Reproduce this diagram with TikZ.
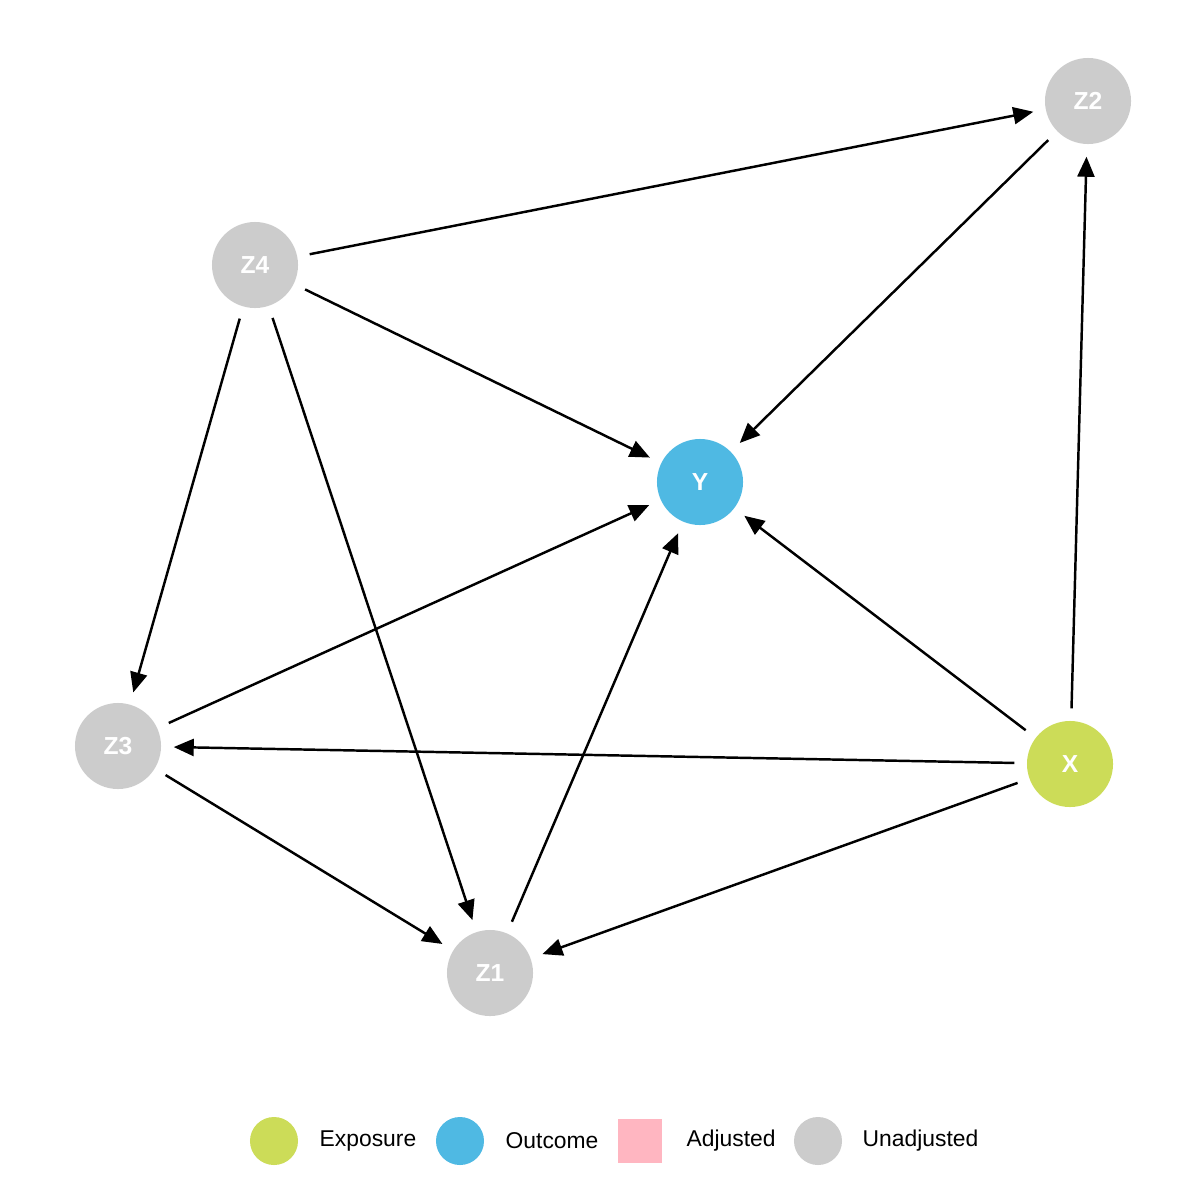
\documentclass[tikz,border=0pt]{standalone}
\usepackage{fontspec}
\setmainfont{Liberation Sans}
\usetikzlibrary{arrows.meta}
\definecolor{exposure}{HTML}{CCDC58}
\definecolor{outcome}{HTML}{4FB9E3}
\definecolor{adjusted}{HTML}{FFB6C1}
\definecolor{unadjusted}{HTML}{CCCCCC}
\begin{document}
\begin{tikzpicture}[x=0.01cm, y=-0.01cm,
    var/.style={circle, minimum size=0.86cm, inner sep=0pt, text=white, font=\fontsize{7}{8}\selectfont\bfseries},
    edge/.style={-{Triangle[length=0.2cm, width=0.17cm]}, line width=0.7pt, shorten <=0.12cm, shorten >=0.12cm},
    key/.style={circle, minimum size=0.48cm, inner sep=0pt},
    keylabel/.style={anchor=west, inner sep=0pt, font=\fontsize{6.5}{8}\selectfont}]
    \useasboundingbox (0,0) rectangle (1200,1200);
    \node[var, fill=unadjusted] (Z2) at (1088,101) {Z2};
    \node[var, fill=unadjusted] (Z4) at (255,265) {Z4};
    \node[var, fill=outcome] (Y) at (700,482) {Y};
    \node[var, fill=unadjusted] (Z3) at (118,746) {Z3};
    \node[var, fill=exposure] (X) at (1070,764) {X};
    \node[var, fill=unadjusted] (Z1) at (490,973) {Z1};

    \draw[edge] (Z4) -- (Z2);
    \draw[edge] (Z4) -- (Y);
    \draw[edge] (Z4) -- (Z3);
    \draw[edge] (Z4) -- (Z1);
    \draw[edge] (Z2) -- (Y);
    \draw[edge] (X) -- (Z2);
    \draw[edge] (X) -- (Y);
    \draw[edge] (X) -- (Z3);
    \draw[edge] (X) -- (Z1);
    \draw[edge] (Z3) -- (Y);
    \draw[edge] (Z3) -- (Z1);
    \draw[edge] (Z1) -- (Y);

    % legend
    \node[key, fill=exposure] (kexp) at (274,1141) {};
    \node[keylabel] (lexp) at (319,1141) {Exposure};
    \node[key, fill=outcome] (kout) at (460,1141) {};
    \node[keylabel] (lout) at (505,1141) {Outcome};
    \node[rectangle, minimum size=0.44cm, inner sep=0pt, fill=adjusted] (kadj) at (640,1141) {};
    \node[keylabel] (ladj) at (686,1141) {Adjusted};
    \node[key, fill=unadjusted] (kuna) at (818,1141) {};
    \node[keylabel] (luna) at (862,1141) {Unadjusted};
\end{tikzpicture}
\end{document}
